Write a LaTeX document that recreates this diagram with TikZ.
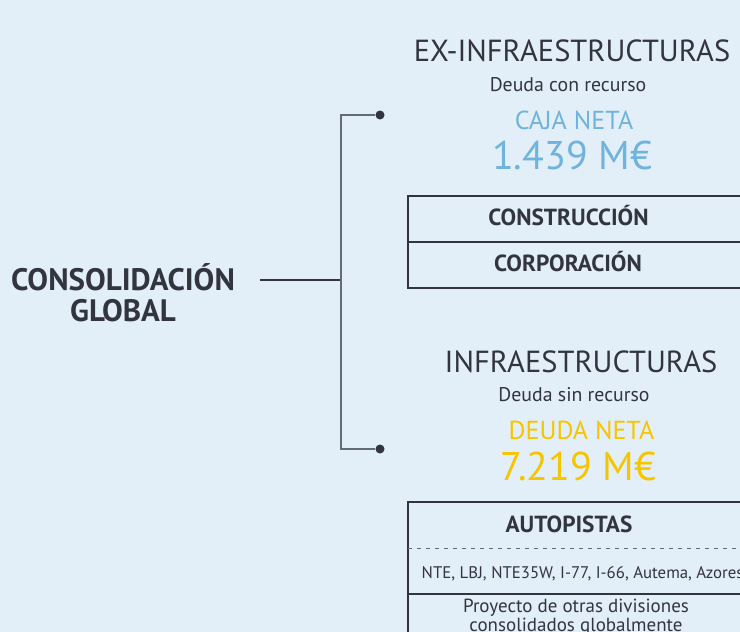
\documentclass[tikz,border=0pt]{standalone}
\usepackage{fontspec}
\setmainfont{PT Sans}
\definecolor{bgblue}{RGB}{226,239,248}
\definecolor{inkdark}{RGB}{50,52,62}
\definecolor{linegrey}{RGB}{100,106,118}
\definecolor{cajablue}{RGB}{112,179,220}
\definecolor{deudayellow}{RGB}{247,197,0}
\tikzset{
  title/.style={font=\fontsize{30.5}{32}\selectfont, text=inkdark, anchor=base, inner sep=0pt},
  sub/.style={font=\fontsize{19.8}{22}\selectfont, text=inkdark, anchor=base, inner sep=0pt},
  kind/.style={font=\fontsize{26}{28}\selectfont, anchor=base, inner sep=0pt},
  amount/.style={font=\fontsize{40}{44}\selectfont, anchor=base, inner sep=0pt},
  cell/.style={font=\bfseries\fontsize{23.3}{25}\selectfont, text=inkdark, anchor=base, inner sep=0pt},
  small/.style={font=\fontsize{16.8}{14}\selectfont, text=inkdark, anchor=base, inner sep=0pt},
  boxline/.style={draw=inkdark, line width=1.2pt},
  dot/.style={circle, fill=inkdark, inner sep=0pt, minimum size=9pt}
}
\begin{document}
\begin{tikzpicture}[x=1pt, y=-1pt]
% background and frame
\fill[bgblue] (0,0) rectangle (740,632);
\useasboundingbox (0,0) rectangle (740,632);
\clip (0,0) rectangle (740,632);

% left label
\node[font=\bfseries\fontsize{31}{31}\selectfont, text=inkdark, align=center, anchor=base, inner sep=0pt]
  (global) at (123,321) {CONSOLIDACIÓN\\GLOBAL};

% bracket
\coordinate (globalout) at (260,280);
\coordinate (split) at (341,280);
\node[dot] (topdot) at (380,115) {};
\node[dot] (botdot) at (380,449) {};
\draw[inkdark, line width=1.2pt] (globalout) -- (split);
\draw[linegrey, line width=1.2pt] (topdot) -| (split) |- (botdot);

% upper block
\node[title] (exinfra) at (572,61) {EX-INFRAESTRUCTURAS};
\node[sub] (conrec) at (568,91) {Deuda con recurso};
\node[kind, text=cajablue] (caja) at (574,129) {CAJA NETA};
\node[amount, text=cajablue] (cajaval) at (572,169) {1.439 M€};

\draw[boxline] (408,196) rectangle (760,288);
\draw[boxline] (408,242) -- (760,242);
\node[cell] (constr) at (568.5,225.5) {CONSTRUCCIÓN};
\node[cell] (corp) at (568,271.5) {CORPORACIÓN};

% lower block
\node[title] (infra) at (581,372) {INFRAESTRUCTURAS};
\node[sub] (sinrec) at (574,401) {Deuda sin recurso};
\node[kind, text=deudayellow] (deuda) at (581.5,439) {DEUDA NETA};
\node[amount, text=deudayellow] (deudaval) at (578.5,480) {7.219 M€};

\draw[boxline] (408,502) rectangle (760,660);
\draw[linegrey, line width=0.8pt, dash pattern=on 4pt off 5pt] (408,548) -- (760,548);
\draw[boxline] (408,594) -- (760,594);
\node[cell] (autop) at (569,532) {AUTOPISTAS};
\node[small, anchor=base west] (roads) at (421.5,578) {NTE, LBJ, NTE35W, I-77, I-66, Autema, Azores};
\node[small, font=\fontsize{19}{14}\selectfont, align=center] (otras) at (576,631) {Proyecto de otras divisiones\\consolidados globalmente};
\end{tikzpicture}
\end{document}
